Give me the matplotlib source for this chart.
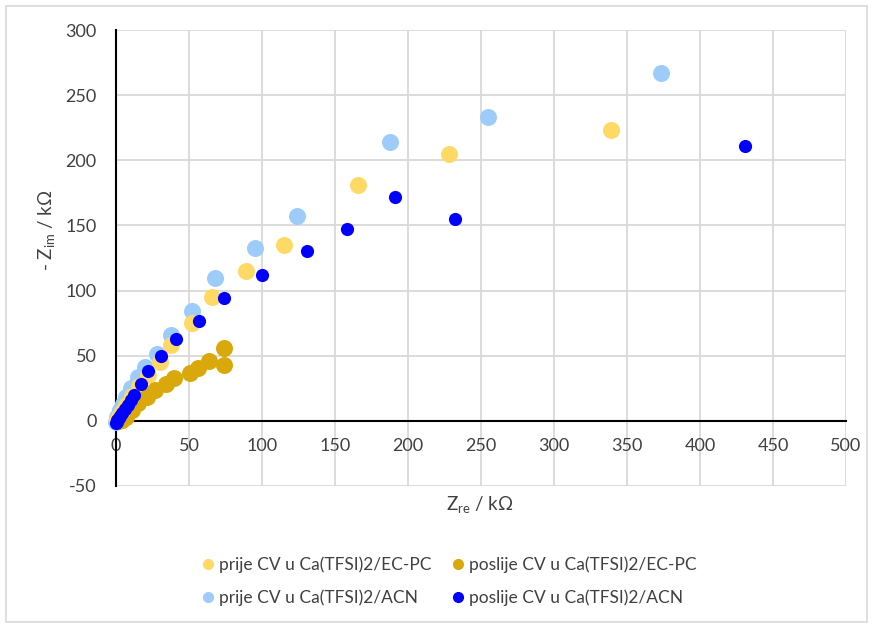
import matplotlib
matplotlib.use("Agg")
import matplotlib.pyplot as plt
from matplotlib.patches import Rectangle
from matplotlib.lines import Line2D

plt.rcParams["font.family"] = ["Lato", "DejaVu Sans"]
plt.rcParams["axes.unicode_minus"] = False

# prije CV u Ca(TFSI)2/EC-PC
pre_ecpc_x = [1, 2, 4, 7, 11, 16, 22, 30, 38, 52, 66, 89, 115, 166, 228, 339]
pre_ecpc_y = [1, 3, 7, 12, 19, 27, 35, 45, 58, 75, 95, 115, 135, 181, 205, 223]

# poslije CV u Ca(TFSI)2/EC-PC
post_ecpc_x = [2, 4, 7, 11, 15, 21, 27, 34, 40, 51, 56, 64, 74, 74]
post_ecpc_y = [0, 1, 3, 8.5, 14, 18, 24, 28, 33, 37, 40.5, 46, 43, 56]

# prije CV u Ca(TFSI)2/ACN
pre_acn_x = [0, 0.5, 1, 2, 3, 5, 7, 10, 15, 20, 28, 38, 52, 68, 95, 124, 188, 255, 373]
pre_acn_y = [-1, 1, 3, 5, 8, 13, 18, 25, 34, 41, 51, 66, 84, 110, 133, 157, 214, 233, 267]

# poslije CV u Ca(TFSI)2/ACN
post_acn_x = [0, 0.5, 1, 2, 3, 4, 6, 8, 10, 12, 17, 22, 31, 41, 57, 74, 100, 131, 158, 191, 232, 431]
post_acn_y = [-2, -1, 0.5, 2, 4, 6, 9, 12, 16, 20, 28, 38, 50, 63, 77, 94, 112, 130, 147, 172, 155, 211]

x_ticks = list(range(0, 501, 50))
y_ticks = list(range(-50, 301, 50))

c_pre_ecpc = "#FFD966"
c_post_ecpc = "#D9A90B"
c_pre_acn = "#9DCCFA"
c_post_acn = "#0000FF"

fig = plt.figure(figsize=(8.73, 6.28), dpi=100)
ax = fig.add_axes([116 / 873, 1 - 486 / 628, 730 / 873, 456 / 628])

ax.scatter(pre_acn_x, pre_acn_y, s=150, color=c_pre_acn, linewidths=0, zorder=3, clip_on=False)
ax.scatter(pre_ecpc_x, pre_ecpc_y, s=150, color=c_pre_ecpc, linewidths=0, zorder=4, clip_on=False)
ax.scatter(post_ecpc_x, post_ecpc_y, s=150, color=c_post_ecpc, linewidths=0, zorder=5, clip_on=False)
ax.scatter(post_acn_x, post_acn_y, s=90, color=c_post_acn, linewidths=0, zorder=6, clip_on=False)

ax.set_xlim(0, 500)
ax.set_ylim(-50, 300)
ax.set_xticks(x_ticks)
ax.set_yticks(y_ticks)
ax.grid(True, color="#d9d9d9", linewidth=1.3, zorder=0)
ax.set_axisbelow(True)

for side in ["top", "right"]:
    ax.spines[side].set_visible(False)
ax.spines["left"].set_color("black")
ax.spines["left"].set_linewidth(1.5)
ax.spines["bottom"].set_position(("data", 0))
ax.spines["bottom"].set_color("black")
ax.spines["bottom"].set_linewidth(1.5)
ax.spines["left"].set_zorder(2)
ax.spines["bottom"].set_zorder(2)
ax.tick_params(length=0, labelsize=13, labelcolor="#404040", pad=12)
ax.tick_params(axis="y", pad=14)

fig.text(480 / 873, 1 - 505 / 628, r"Z$_{\mathregular{re}}$ / kΩ", ha="center", va="center",
         fontsize=13.5, color="#404040")
fig.text(47 / 873, 1 - 230 / 628, r"- Z$_{\mathregular{im}}$ / kΩ", ha="center", va="center",
         rotation=90, fontsize=13.5, color="#404040")

handles = [
    Line2D([], [], marker="o", linestyle="none", markersize=7, color=c_pre_ecpc),
    Line2D([], [], marker="o", linestyle="none", markersize=7, color=c_pre_acn),
    Line2D([], [], marker="o", linestyle="none", markersize=7, color=c_post_ecpc),
    Line2D([], [], marker="o", linestyle="none", markersize=7, color=c_post_acn),
]
labels = [
    "prije CV u Ca(TFSI)2/EC-PC",
    "prije CV u Ca(TFSI)2/ACN",
    "poslije CV u Ca(TFSI)2/EC-PC",
    "poslije CV u Ca(TFSI)2/ACN",
]
fig.legend(handles, labels, ncol=2, loc="center", bbox_to_anchor=(448 / 873, 1 - 581 / 628),
           frameon=False, fontsize=12.5, labelcolor="#404040", handletextpad=0.1,
           columnspacing=1.05, labelspacing=0.95, handlelength=1.0)

fig.patches.append(Rectangle((6 / 873, 6 / 628), 861 / 873, 616 / 628, transform=fig.transFigure,
                             fill=False, edgecolor="#d9d9d9", linewidth=1.2))

plt.savefig("out.png", dpi=100)
plt.close()
